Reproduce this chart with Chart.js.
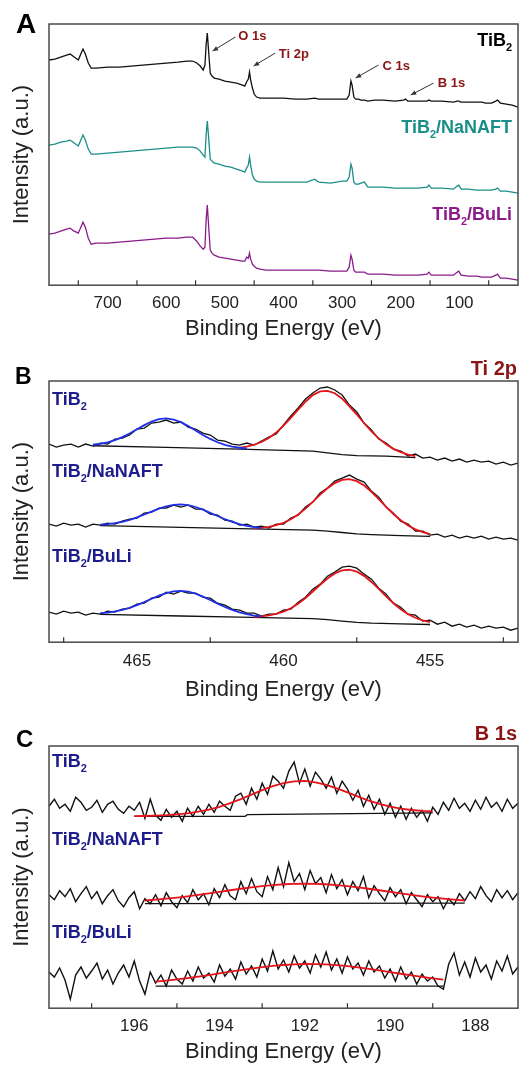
<!DOCTYPE html>
<html>
<head>
<meta charset="utf-8">
<script src="https://cdn.jsdelivr.net/npm/chart.js@4.4.1/dist/chart.umd.min.js"></script>
<style>
  body { margin: 0; background: #fff; }
  #wrap { position: relative; width: 520px; height: 1065px; }
  canvas { position: absolute; left: 0; }
</style>
</head>
<body>
<div id="wrap">
  <canvas id="cA" width="520" height="345" style="top:0"></canvas>
  <canvas id="cB" width="520" height="360" style="top:345px"></canvas>
  <canvas id="cC" width="520" height="360" style="top:705px"></canvas>
</div>
<script>
// ---- panel A: survey spectra ----
const surveyEnergy = [800, 790, 780, 770, 764, 757, 750, 745, 742, 738,
  733, 728, 720, 700, 680, 660, 640, 620, 600, 580,
  565, 555, 548, 542, 537, 534, 532, 530, 528, 525,
  522, 518, 510, 500, 490, 480, 470, 466, 463, 460,
  458, 456, 453, 450, 446, 440, 430, 420, 400, 380,
  360, 347, 340, 320, 300, 292, 288, 285, 283, 280,
  277, 272, 268, 262, 256, 245, 230, 210, 195, 192,
  188, 170, 155, 152, 148, 130, 110, 104, 101, 97,
  85, 70, 62, 55, 45, 38, 35, 30, 20, 10, 0];
const surveyTiB2 = [225, 226, 228, 230, 231, 228, 225, 232, 236, 231,
  222, 217, 217, 218, 218, 219, 220, 221, 222, 223,
  224, 224, 222, 219, 215, 220, 240, 252, 236, 212,
  209, 207, 206, 204, 203, 202, 200, 199, 203, 206,
  213, 205, 197, 191, 188, 187, 187, 187, 187, 186,
  186, 187, 186, 186, 186, 186, 190, 204, 200, 188,
  186, 186, 185, 185, 184, 185, 185, 184, 185, 186,
  184, 184, 184, 185, 184, 184, 183, 184, 184, 183,
  183, 183, 183, 182, 182, 184, 185, 182, 181, 180, 178];
const surveyNaNAFT = [140, 141, 143, 144, 145, 142, 139, 146, 150, 145,
  136, 131, 131, 132, 133, 134, 135, 136, 137, 138,
  138, 138, 137, 134, 130, 128, 150, 164, 150, 126,
  124, 122, 121, 119, 118, 116, 114, 113, 117, 120,
  128, 120, 110, 106, 104, 103, 103, 103, 103, 103,
  103, 106, 103, 102, 104, 104, 108, 121, 117, 103,
  101, 101, 102, 103, 98, 98, 98, 97, 97, 97,
  97, 97, 98, 100, 97, 97, 96, 99, 100, 96,
  96, 95, 95, 95, 95, 96, 97, 94, 94, 93, 92];
const surveyBuLi = [51, 52, 54, 56, 57, 54, 52, 59, 63, 58,
  47, 41, 42, 42, 43, 44, 45, 46, 47, 47,
  48, 48, 44, 39, 36, 38, 65, 80, 62, 35,
  32, 30, 28, 27, 26, 25, 24, 24, 28, 27,
  32, 26, 21, 19, 17, 16, 15, 15, 15, 15,
  15, 15, 15, 14, 14, 14, 18, 30, 26, 15,
  13, 13, 13, 13, 11, 11, 11, 10, 10, 10,
  10, 10, 11, 13, 10, 10, 10, 13, 14, 10,
  9, 9, 8, 8, 8, 10, 11, 7, 7, 6, 5];
const surveyTicks = [700, 600, 500, 400, 300, 200, 100];
const surveyMinor = [750, 650, 550, 450, 350, 250, 150, 50];

// ---- panel B: Ti 2p ----
const tiEnergy = [468, 467.75, 467.5, 467.25, 467, 466.75, 466.5, 466.25, 466, 465.75,
  465.5, 465.25, 465, 464.75, 464.5, 464.25, 464, 463.75, 463.5, 463.25,
  463, 462.75, 462.5, 462.25, 462, 461.75, 461.5, 461.25, 461, 460.75,
  460.5, 460.25, 460, 459.75, 459.5, 459.25, 459, 458.75, 458.5, 458.25,
  458, 457.75, 457.5, 457.25, 457, 456.75, 456.5, 456.25, 456, 455.75,
  455.5, 455.25, 455, 454.75, 454.5, 454.25, 454, 453.75, 453.5, 453.25,
  453, 452.75, 452.5, 452.25, 452];
const tiTiB2 = [198, 195, 197, 198, 195, 198, 196, 199, 198, 203,
  204, 207, 213, 214, 219, 220, 222, 219, 220, 215,
  213, 209, 207, 202, 201, 198, 197, 199, 197, 201,
  205, 208, 217, 226, 234, 243, 249, 254, 255, 252,
  247, 237, 230, 219, 212, 203, 199, 193, 191, 186,
  188, 184, 185, 182, 184, 181, 183, 180, 182, 180,
  181, 178, 180, 177, 179];
const tiNaNAFT = [118, 116, 119, 117, 118, 115, 118, 117, 119, 118,
  121, 123, 124, 129, 130, 134, 134, 137, 135, 137,
  133, 133, 128, 127, 122, 121, 117, 118, 115, 116,
  114, 118, 118, 124, 127, 135, 140, 149, 154, 161,
  164, 167, 163, 160, 151, 145, 135, 129, 121, 118,
  111, 111, 107, 108, 105, 107, 104, 106, 104, 106,
  103, 105, 103, 104, 102];
const tiBuLi = [30, 28, 31, 29, 30, 27, 29, 28, 31, 30,
  33, 34, 38, 39, 44, 45, 50, 48, 51, 49,
  49, 45, 44, 39, 37, 33, 32, 29, 29, 26,
  28, 28, 32, 33, 40, 45, 53, 58, 66, 70,
  75, 76, 74, 68, 63, 54, 48, 39, 35, 28,
  27, 21, 22, 18, 20, 16, 18, 15, 17, 14,
  16, 14, 15, 12, 14];
// fitted components (Ti 2p1/2 blue, Ti 2p3/2 red) and Shirley backgrounds
const tiBlue1 = [197.3, 198.3, 199.7, 201.9, 204.9, 208.6, 212.8, 216.9, 220.5, 222.8, 223.6,
  222.5, 219.9, 216, 211.6, 207.1, 203.1, 199.8, 197.2, 195.5, 194.3, 193.5];
const tiRed1 = [194.5, 195.5, 197.3, 200, 204, 209.5, 216.3, 224.1, 232.4, 240.3, 246.9, 250.6, 251.2,
  248.8, 243.3, 235.7, 227.5, 218.8, 210.7, 203.6, 197.8, 193.2, 189.9, 187.5, 186];
const tiBlue2 = [117.4, 117.9, 118.9, 120.3, 122.3, 124.7, 127.6, 130.5, 133.4, 135.7, 137.3, 137.7,
  137, 135.1, 132.5, 129.3, 126.1, 122.9, 120.2, 117.9, 116.2, 114.9, 114];
const tiRed2 = [113.9, 114.3, 115.2, 116.9, 119.3, 122.8, 127.6, 133.5, 140.3, 147.4, 153.8, 159, 162.2,
  162.9, 160.9, 156.5, 150.3, 143, 135.3, 128.1, 121.8, 116.6, 112.7, 110, 108.1];
const tiBlue3 = [29, 29.6, 30.7, 32.2, 34.4, 37, 40.1, 43.4, 46.5, 49.1, 50.8, 51.2,
  50.5, 48.5, 45.6, 42.2, 38.6, 35.2, 32.3, 29.8, 28, 26.6, 25.7];
const tiRed3 = [25.4, 25.8, 26.7, 28.3, 30.5, 33.9, 38.5, 44.2, 50.7, 57.4, 63.7, 68.7, 71.7,
  72.4, 70.5, 66.3, 60.2, 53.2, 45.7, 38.9, 33, 28, 24.4, 21.8, 20];
const tiBgE1 = [466.5, 464, 461.5, 459, 458.5, 458, 457.5, 456.5, 455.5];
const tiBg1 = [196.3, 194.6, 193, 191, 189.2, 187.4, 186.5, 186, 184.5];
const tiBgE2 = [466.25, 463.5, 461.5, 459, 458.5, 458, 457.5, 457, 456, 455];
const tiBg2 = [116.4, 114.7, 113.5, 112, 111, 109.6, 108.3, 107.5, 106.5, 105.8];
const tiBg3 = [27.85, 26.2, 25, 23.5, 22.5, 21, 19.8, 19, 18.25, 17.7];
const tiTicks = [465, 460, 455];
const tiMinor = [467.5, 462.5, 457.5, 452.5];

// ---- panel C: B 1s ----
const bEnergy = [198, 197.875, 197.75, 197.625, 197.5, 197.375, 197.25, 197.125, 197, 196.875,
  196.75, 196.625, 196.5, 196.375, 196.25, 196.125, 196, 195.875, 195.75, 195.625,
  195.5, 195.375, 195.25, 195.125, 195, 194.875, 194.75, 194.625, 194.5, 194.375,
  194.25, 194.125, 194, 193.875, 193.75, 193.625, 193.5, 193.375, 193.25, 193.125,
  193, 192.875, 192.75, 192.625, 192.5, 192.375, 192.25, 192.125, 192, 191.875,
  191.75, 191.625, 191.5, 191.375, 191.25, 191.125, 191, 190.875, 190.75, 190.625,
  190.5, 190.375, 190.25, 190.125, 190, 189.875, 189.75, 189.625, 189.5, 189.375,
  189.25, 189.125, 189, 188.875, 188.75, 188.625, 188.5, 188.375, 188.25, 188.125,
  188, 187.875, 187.75, 187.625, 187.5, 187.375, 187.25, 187.125, 187];
const bTiB2 = [201, 208, 199, 203, 196, 210, 205, 197, 200, 207,
  195, 203, 206, 198, 194, 201, 197, 205, 189, 208,
  192, 187, 198, 190, 196, 186, 199, 191, 201, 193,
  203, 195, 206, 201, 197, 211, 214, 203, 219, 208,
  224, 213, 231, 226, 219, 236, 245, 224, 238, 221,
  235, 228, 219, 230, 214, 226, 218, 207, 217, 201,
  212, 198, 208, 193, 204, 190, 201, 188, 199, 190,
  197, 186, 200, 193, 205, 197, 209, 199, 204, 196,
  207, 198, 210, 200, 205, 196, 208, 199, 204];
const bNaNAFT = [113, 108, 117, 111, 119, 106, 114, 121, 109, 116,
  104, 112, 118, 107, 101, 110, 116, 99, 109, 104,
  113, 102, 115, 106, 100, 112, 105, 118, 108, 114,
  103, 119, 110, 123, 112, 108, 126, 114, 129, 116,
  111, 131, 118, 140, 121, 145, 126, 134, 118, 137,
  124, 130, 115, 133, 119, 128, 113, 126, 117, 131,
  110, 122, 114, 107, 120, 111, 118, 104, 115, 108,
  101, 113, 106, 111, 99, 109, 103, 114, 107, 116,
  109, 121, 112, 106, 118, 110, 117, 108, 115];
const bBuLi = [36, 31, 40, 28, 9, 33, 41, 30, 37, 45,
  29, 38, 24, 35, 43, 31, 47, 27, 14, 36,
  25, 33, 22, 38, 29, 24, 37, 27, 41, 30,
  35, 26, 43, 32, 39, 29, 46, 34, 42, 31,
  49, 37, 57, 39, 48, 36, 52, 40, 47, 35,
  53, 41, 56, 38, 49, 35, 51, 39, 45, 33,
  47, 36, 42, 30, 39, 27, 41, 29, 36, 24,
  34, 27, 31, 22, 19, 44, 55, 33, 46, 31,
  50, 36, 43, 29, 47, 37, 52, 34, 41];
// fits sampled every 0.25 eV
const bFit1 = [191.1, 191.3, 191.7, 192.2, 193, 194, 195.6, 197.7, 200.5, 204.1, 208.1, 212.6, 217, 221, 224.1,
  225.8, 226.2, 224.9, 222.4, 218.8, 214.8, 210.6, 206.6, 203.3, 200.6, 198.7, 197.3, 196.4, 195.9];
const bFit2 = [107.2, 108, 109, 110.1, 111.4, 112.8, 114.3, 115.8, 117.4, 118.9, 120.3, 121.5, 122.6, 123.4, 123.8,
  124, 123.8, 123.4, 122.6, 121.5, 120.3, 118.9, 117.4, 115.8, 114.3, 112.8, 111.4, 110.1, 109, 108, 107.2];
const bFit3 = [26.4, 27.4, 28.6, 30, 31.5, 33, 34.7, 36.3, 38, 39.5, 40.9, 42.1, 43, 43.7, 44,
  43.9, 43.6, 42.9, 41.9, 40.7, 39.2, 37.6, 36, 34.3, 32.7, 31.1, 29.7, 28.4];
const bBgE1 = [196, 193.4, 193.35, 189];
const bBg1 = [191, 191, 192.6, 194.5];
const bBgE2 = [195.75, 188.25];
const bBg2 = [104, 104.5];
const bBgE3 = [195.5, 188.75];
const bBg3 = [22, 22];
const bTicks = [196, 194, 192, 190, 188];
const bMinor = [197, 195, 193, 191, 189];

const FONT = '"Liberation Sans", Arial, Helvetica, sans-serif';
Chart.defaults.font.family = FONT;
const NAVY = '#1c1c8c';
const DARKRED = '#8b1414';

const zip = (xs, ys) => ys.map((v, i) => ({ x: xs[i], y: v }));
// points that start at a given energy of a grid, optionally skipping grid points
const from = (xs, start, ys, step = 1) => {
  const i0 = xs.indexOf(start);
  return ys.map((v, i) => ({ x: xs[i0 + i * step], y: v }));
};

function line(data, color, width, order) {
  return { data, borderColor: color, borderWidth: width, pointRadius: 0, fill: false, order };
}

function drawRich(ctx, parts, x, y, size, color, align) {
  const main = `bold ${size}px ${FONT}`;
  const small = `bold ${Math.round(size * 0.6)}px ${FONT}`;
  let w = 0;
  parts.forEach(p => { ctx.font = p[1] ? small : main; w += ctx.measureText(p[0]).width; });
  let cx = align === 'right' ? x - w : x;
  ctx.fillStyle = color;
  ctx.textAlign = 'left';
  ctx.textBaseline = 'alphabetic';
  parts.forEach(p => {
    ctx.font = p[1] ? small : main;
    ctx.fillText(p[0], cx, p[1] ? y + size * 0.28 : y);
    cx += ctx.measureText(p[0]).width;
  });
}

const decor = {
  id: 'decor',
  afterDraw(chart, args, opts) {
    const { ctx, chartArea: a, scales: { x, y } } = chart;
    ctx.save();
    // frame
    ctx.strokeStyle = '#4a4a4a';
    ctx.lineWidth = 1.5;
    ctx.strokeRect(a.left, a.top, a.right - a.left, a.bottom - a.top);
    // inward minor ticks
    ctx.lineWidth = 1.2;
    ctx.strokeStyle = '#333';
    opts.minor.forEach(v => {
      const px = x.getPixelForValue(v);
      ctx.beginPath();
      ctx.moveTo(px, a.bottom);
      ctx.lineTo(px, a.bottom - 5);
      ctx.stroke();
    });
    // y-axis title
    ctx.save();
    ctx.translate(22, (a.top + a.bottom) / 2);
    ctx.rotate(-Math.PI / 2);
    ctx.font = `22px ${FONT}`;
    ctx.fillStyle = '#222';
    ctx.textAlign = 'center';
    ctx.textBaseline = 'middle';
    ctx.fillText('Intensity (a.u.)', 0, 0);
    ctx.restore();
    // panel letter and title
    ctx.font = `bold ${opts.letter.size}px ${FONT}`;
    ctx.fillStyle = '#000';
    ctx.textAlign = 'left';
    ctx.textBaseline = 'alphabetic';
    ctx.fillText(opts.letter.text, opts.letter.x, opts.letter.y);
    if (opts.title) {
      ctx.font = `bold 20px ${FONT}`;
      ctx.fillStyle = DARKRED;
      ctx.textAlign = 'right';
      ctx.fillText(opts.title, 517, opts.titleY);
    }
    // sample labels
    opts.labels.forEach(l => drawRich(ctx, l.parts, l.x, l.y, 18, l.color, l.align));
    // peak annotations with arrows
    (opts.arrows || []).forEach(ar => {
      const tx = x.getPixelForValue(ar.tail[0]), ty = y.getPixelForValue(ar.tail[1]);
      const hx = x.getPixelForValue(ar.tip[0]), hy = y.getPixelForValue(ar.tip[1]);
      ctx.strokeStyle = '#333';
      ctx.fillStyle = '#333';
      ctx.lineWidth = 1;
      ctx.beginPath();
      ctx.moveTo(tx, ty);
      ctx.lineTo(hx, hy);
      ctx.stroke();
      const ang = Math.atan2(hy - ty, hx - tx);
      ctx.beginPath();
      ctx.moveTo(hx, hy);
      ctx.lineTo(hx - 6 * Math.cos(ang - 0.4), hy - 6 * Math.sin(ang - 0.4));
      ctx.lineTo(hx - 6 * Math.cos(ang + 0.4), hy - 6 * Math.sin(ang + 0.4));
      ctx.closePath();
      ctx.fill();
      ctx.font = `bold 13px ${FONT}`;
      ctx.fillStyle = DARKRED;
      ctx.textAlign = 'left';
      ctx.fillText(ar.text, x.getPixelForValue(ar.at[0]), y.getPixelForValue(ar.at[1]));
    });
    ctx.restore();
  }
};

function makeChart(id, datasets, xr, padding, decorOpts) {
  return new Chart(document.getElementById(id), {
    type: 'line',
    data: { datasets },
    options: {
      responsive: false,
      animation: false,
      layout: { padding },
      elements: { line: { tension: 0 } },
      plugins: { legend: { display: false }, tooltip: { enabled: false }, decor: decorOpts },
      scales: {
        x: {
          type: 'linear',
          reverse: true,
          min: xr.min,
          max: xr.max,
          afterBuildTicks: s => { s.ticks = xr.ticks.map(v => ({ value: v })); },
          grid: { display: false, drawTicks: false },
          border: { display: false },
          ticks: { padding: xr.tickPad, color: '#222', font: { size: 17 }, maxRotation: 0, autoSkip: false },
          title: { display: true, text: 'Binding Energy (eV)', color: '#222', font: { size: 22 },
                   padding: { top: xr.titlePad, bottom: 0 } }
        },
        y: { display: false, min: 0, max: 261 }
      }
    },
    plugins: [decor]
  });
}

const TIB2 = [['TiB'], ['2', true]];
const NAFT = [['TiB'], ['2', true], ['/NaNAFT']];
const BULI = [['TiB'], ['2', true], ['/BuLi']];

makeChart('cA', [
  line(zip(surveyEnergy, surveyTiB2), '#111', 1.3, 1),
  line(zip(surveyEnergy, surveyNaNAFT), '#1a8f88', 1.3, 1),
  line(zip(surveyEnergy, surveyBuLi), '#8b1a8b', 1.3, 1)
], { min: 0, max: 800, ticks: surveyTicks, tickPad: 8, titlePad: -6 },
{ top: 24, left: 49, right: 2, bottom: 3 },
{
  minor: surveyMinor,
  letter: { text: 'A', x: 16, y: 33, size: 28 },
  labels: [
    { parts: TIB2, x: 512, y: 46, color: '#000', align: 'right' },
    { parts: NAFT, x: 512, y: 133, color: '#1a8f88', align: 'right' },
    { parts: BULI, x: 512, y: 220, color: '#8b1a8b', align: 'right' }
  ],
  arrows: [
    { text: 'O 1s', at: [477, 245], tail: [482, 248], tip: [521, 234] },
    { text: 'Ti 2p', at: [408, 227], tail: [414, 232], tip: [451, 219] },
    { text: 'C 1s', at: [231, 215], tail: [238, 220], tip: [277, 207] },
    { text: 'B 1s', at: [137, 198], tail: [144, 202], tip: [183, 190] }
  ]
});

makeChart('cB', [
  line(from(tiEnergy, 466.5, tiBlue1), '#1f2fe6', 1.8, 1),
  line(from(tiEnergy, 461.5, tiRed1), '#e3141b', 1.8, 1),
  line(from(tiEnergy, 466.25, tiBlue2), '#1f2fe6', 1.8, 1),
  line(from(tiEnergy, 461, tiRed2), '#e3141b', 1.8, 1),
  line(from(tiEnergy, 466.25, tiBlue3), '#1f2fe6', 1.8, 1),
  line(from(tiEnergy, 461, tiRed3), '#e3141b', 1.8, 1),
  line(zip(tiBgE1, tiBg1), '#111', 1.3, 2),
  line(zip(tiBgE2, tiBg2), '#111', 1.3, 2),
  line(zip(tiBgE2, tiBg3), '#111', 1.3, 2),
  line(zip(tiEnergy, tiTiB2), '#111', 1.3, 3),
  line(zip(tiEnergy, tiNaNAFT), '#111', 1.3, 3),
  line(zip(tiEnergy, tiBuLi), '#111', 1.3, 3)
], { min: 452, max: 468, ticks: tiTicks, tickPad: 9, titlePad: -4 },
{ top: 36, left: 49, right: 2, bottom: 2 },
{
  minor: tiMinor,
  letter: { text: 'B', x: 15, y: 39, size: 23 },
  title: 'Ti 2p', titleY: 30,
  labels: [
    { parts: TIB2, x: 52, y: 60, color: NAVY },
    { parts: NAFT, x: 52, y: 132, color: NAVY },
    { parts: BULI, x: 52, y: 217, color: NAVY }
  ]
});

makeChart('cC', [
  line(from(bEnergy, 196, bFit1, 2), '#e3141b', 1.8, 1),
  line(from(bEnergy, 195.75, bFit2, 2), '#e3141b', 1.8, 1),
  line(from(bEnergy, 195.5, bFit3, 2), '#e3141b', 1.8, 1),
  line(zip(bBgE1, bBg1), '#111', 1.3, 2),
  line(zip(bBgE2, bBg2), '#111', 1.3, 2),
  line(zip(bBgE3, bBg3), '#111', 1.3, 2),
  line(zip(bEnergy, bTiB2), '#111', 1.4, 3),
  line(zip(bEnergy, bNaNAFT), '#111', 1.4, 3),
  line(zip(bEnergy, bBuLi), '#111', 1.4, 3)
], { min: 187, max: 198, ticks: bTicks, tickPad: 8, titlePad: -6 },
{ top: 41, left: 49, right: 2, bottom: 0 },
{
  minor: bMinor,
  letter: { text: 'C', x: 16, y: 42, size: 24 },
  title: 'B 1s', titleY: 35,
  labels: [
    { parts: TIB2, x: 52, y: 62, color: NAVY },
    { parts: NAFT, x: 52, y: 140, color: NAVY },
    { parts: BULI, x: 52, y: 233, color: NAVY }
  ]
});
</script>
</body>
</html>
